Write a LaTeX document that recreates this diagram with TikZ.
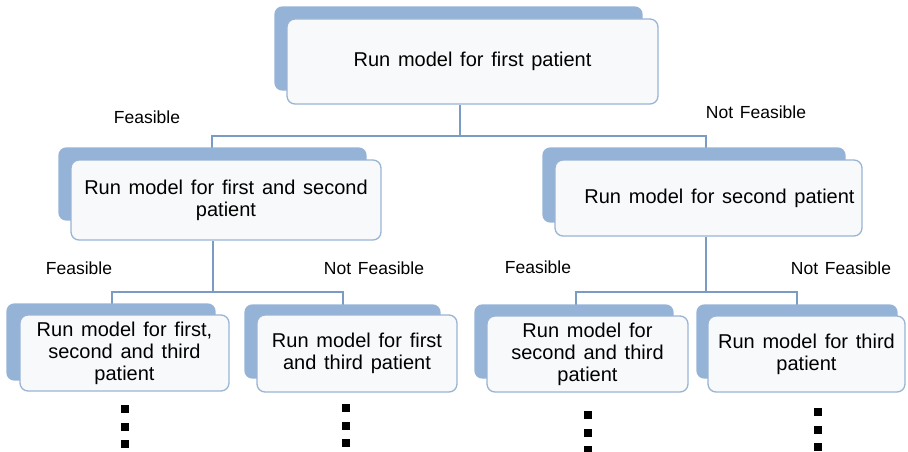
\documentclass[tikz,border=0pt]{standalone}
\usepackage{fontspec}
\setmainfont{Liberation Sans}[WordSpace=1.4]
\usetikzlibrary{backgrounds,calc}
\definecolor{backblue}{HTML}{95B3D7}
\definecolor{frontline}{HTML}{9AB4D4}
\definecolor{frontfill}{HTML}{F7F9FB}
\definecolor{connblue}{HTML}{7A9CC4}
\begin{document}
\begin{tikzpicture}[x=1pt,y=-1pt,
  front/.style={draw=frontline, line width=1.3pt, fill=frontfill, rounded corners=8pt,
    align=center, inner sep=0pt, font=\fontsize{20}{22}\selectfont},
  backbox/.style={fill=backblue, rounded corners=8pt},
  conn/.style={draw=connblue, line width=1.5pt},
  lbl/.style={font=\fontsize{17.5}{20}\selectfont, inner sep=0pt},
  dot/.style={fill=black, minimum size=7.5pt, inner sep=0pt}]
\useasboundingbox (0,0) rectangle (908,452);

% front boxes
\node[front, minimum width=371pt, minimum height=85pt] (top) at (472.5,61.5) {Run model for first patient};
\node[front, minimum width=310pt, minimum height=80pt] (l2l) at (226,200) {Run model for first and second\\patient};
\node[front, minimum width=307pt, minimum height=76pt] (l2r) at (708.5,198) {\hspace*{22pt}Run model for second patient};
\node[front, minimum width=209pt, minimum height=76pt] (l3a) at (124.5,353) {Run model for first,\\second and third\\patient};
\node[front, minimum width=200pt, minimum height=77pt] (l3b) at (357,353.5) {Run model for first\\and third patient};
\node[front, minimum width=201pt, minimum height=76pt] (l3c) at (587.5,354) {Run model for\\second and third\\patient};
\node[front, minimum width=197pt, minimum height=76pt] (l3d) at (806.5,354) {Run model for third\\patient};

% labels
\node[lbl] (f1) at (147,117) {Feasible};
\node[lbl] (nf1) at (756,112) {Not Feasible};
\node[lbl] (f2) at (79,268) {Feasible};
\node[lbl] (nf2) at (374,268) {Not Feasible};
\node[lbl] (f3) at (538,267) {Feasible};
\node[lbl] (nf3) at (841,268) {Not Feasible};

% dots
\foreach \n/\x/\ya in {a/125/409, b/346/408, c/588/415, d/818/412}{
  \node[dot] (\n1) at (\x,\ya) {};
  \node[dot] (\n2) at (\x,\ya+18) {};
  \node[dot] (\n3) at (\x,\ya+35) {};
}

\begin{pgfonlayer}{background}
% connectors
\coordinate (j1) at (460,136);
\coordinate (h1l) at (212,136);
\coordinate (h1r) at (706,136);
\draw[conn] (top.south -| j1) -- (j1);
\draw[conn] (h1l |- l2l.north) -- (h1l) -- (h1r) -- (h1r |- l2r.north);
\coordinate (h2l) at (112,292);
\coordinate (h2m) at (213,292);
\coordinate (h2r) at (343,292);
\draw[conn] (l2l.south -| h2m) -- (h2m);
\draw[conn] (h2l |- l3a.north) -- (h2l) -- (h2r) -- (h2r |- l3b.north);
\coordinate (h3l) at (576,292);
\coordinate (h3m) at (706,292);
\coordinate (h3r) at (797,292);
\draw[conn] (l2r.south -| h3m) -- (h3m);
\draw[conn] (h3l |- l3c.north) -- (h3l) -- (h3r) -- (h3r |- l3d.north);
% back boxes
\fill[backbox] ($(top.north west)+(-12,-12)$) rectangle ($(top.south east)+(-16,-14)$);
\fill[backbox] ($(l2l.north west)+(-12,-12)$) rectangle ($(l2l.south east)+(-15,-20)$);
\fill[backbox] ($(l2r.north west)+(-12,-12)$) rectangle ($(l2r.south east)+(-17,-14)$);
\fill[backbox] ($(l3a.north west)+(-13,-11)$) rectangle ($(l3a.south east)+(-14,-11)$);
\fill[backbox] ($(l3b.north west)+(-12,-10)$) rectangle ($(l3b.south east)+(-17,-14)$);
\fill[backbox] ($(l3c.north west)+(-12,-11)$) rectangle ($(l3c.south east)+(-15,-14)$);
\fill[backbox] ($(l3d.north west)+(-11,-11)$) rectangle ($(l3d.south east)+(-8,-14)$);
\end{pgfonlayer}
\end{tikzpicture}
\end{document}
